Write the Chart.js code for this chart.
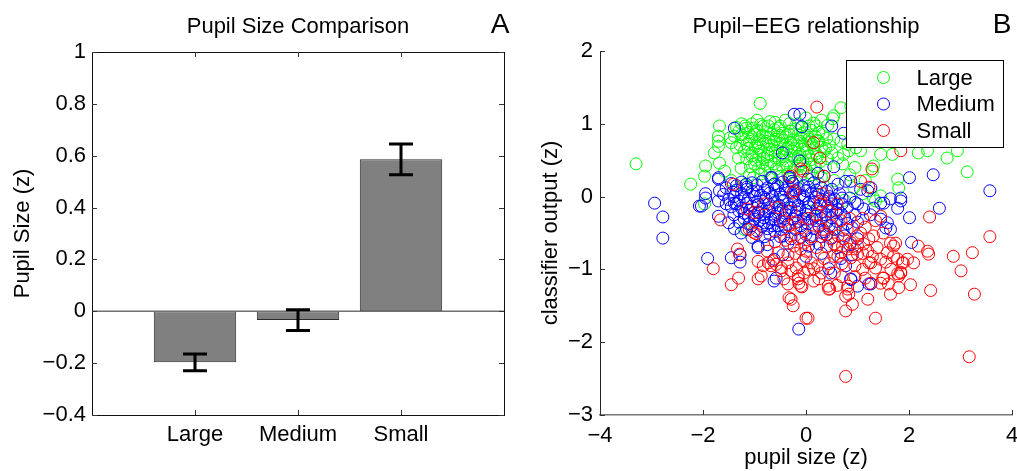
<!DOCTYPE html>
<html>
<head>
<meta charset="utf-8">
<title>Pupil size and classifier output</title>
<script src="https://cdn.jsdelivr.net/npm/chart.js@4.4.1/dist/chart.umd.min.js"></script>
<style>
  html, body { margin: 0; padding: 0; background: #fff; }
  #wrap { position: relative; width: 1017px; height: 471px; }
  .panel { position: absolute; top: 0; height: 471px; }
  #panelA { left: 0; width: 520px; }
  #panelB { left: 520px; width: 497px; }
</style>
</head>
<body>
<div id="wrap">
  <div class="panel" id="panelA"><canvas id="barChart" width="520" height="471"></canvas></div>
  <div class="panel" id="panelB"><canvas id="scatterChart" width="497" height="471"></canvas></div>
</div>
<script>
// ---- panel A: mean pupil size per condition (with s.e.m.)
const categories = ['Large', 'Medium', 'Small'];
const pupilMeans = [-0.197, -0.034, 0.586];
const pupilErrors = [0.032, 0.040, 0.059];

// ---- panel B: single-trial pupil size vs classifier output, [pupil, classifier]
const largePts = [
  [-3.30,0.45],[-2.24,0.17],[-1.97,0.28],[-1.95,0.42],[-1.97,-0.10],[-1.78,0.60],[-1.70,0.69],[-1.70,0.76],
  [-1.70,0.83],[-1.68,0.97],[-1.68,0.46],[-1.58,0.35],[-1.47,0.81],[-1.39,0.83],[-1.35,0.67],[-1.31,0.53],
  [-1.26,0.39],[-1.45,0.74],[-0.89,1.28],[-1.16,0.94],[-1.02,0.94],[-0.83,0.97],[-0.73,0.97],[-0.54,0.94],
  [-0.29,0.90],[-1.02,0.26],[-0.87,0.31],
  [0.68,1.22],[0.87,1.24],[0.54,1.11],[0.52,1.07],[0.15,1.01],[0.06,0.97],[0.33,0.87],[0.25,0.76],
  [0.54,0.79],[0.68,0.76],[0.81,0.72],[0.97,0.67],[1.06,0.63],[0.83,0.63],[0.73,0.58],[0.62,0.53],
  [0.71,0.45],[1.31,0.42],[1.29,0.35],[1.45,0.58],[1.68,0.58],[1.78,0.24],[1.80,0.12],[0.93,0.12],
  [1.10,0.04],[1.31,-0.02],[1.45,0.01],[2.18,0.60],[2.36,0.63],[2.74,0.53],[2.94,0.63],[3.13,0.34],
  [0.85,0.30],[0.95,0.40],[1.15,0.22],
  [-0.60,1.02],[-0.40,1.05],[-0.15,1.00],[0.00,1.08],[0.30,1.05],[0.42,0.98],[-1.25,1.00],[-0.95,1.05],
  [-1.30,0.90],[-1.12,0.88],[-0.95,0.91],[-0.78,0.89],[-0.62,0.92],[-0.45,0.87],[-0.20,0.93],[-0.05,0.88],[0.10,0.91],
  [-1.22,0.80],[-1.05,0.82],[-0.90,0.78],[-0.72,0.81],[-0.58,0.79],[-0.40,0.82],[-0.25,0.78],[-0.10,0.81],
  [0.05,0.79],[0.18,0.83],[0.40,0.80],
  [-1.28,0.71],[-1.15,0.72],[-0.98,0.69],[-0.83,0.72],[-0.66,0.70],[-0.50,0.73],[-0.35,0.68],[-0.18,0.71],
  [-0.02,0.70],[0.12,0.72],[0.30,0.68],[0.45,0.70],
  [-1.20,0.62],[-1.05,0.60],[-0.88,0.63],[-0.74,0.59],[-0.60,0.62],[-0.42,0.60],[-0.28,0.63],[-0.12,0.58],
  [0.02,0.61],[0.20,0.59],[0.35,0.62],[0.50,0.60],
  [-1.15,0.52],[-0.98,0.50],[-0.82,0.53],[-0.68,0.48],[-0.52,0.51],[-0.38,0.49],[-0.22,0.52],[-0.06,0.49],
  [0.10,0.51],[0.28,0.48],[0.42,0.52],
  [-1.08,0.41],[-0.92,0.39],[-0.75,0.42],[-0.58,0.38],[-0.45,0.41],[-0.30,0.40],[-0.15,0.42],[0.00,0.38],
  [0.18,0.41],[0.38,0.40],
  [-1.10,0.30],[-0.70,0.30],[-0.50,0.28],[-0.35,0.31],[-0.10,0.29],[0.12,0.30],[0.30,0.27],
  [-0.60,0.18],[-0.20,0.20],[0.25,0.18],[0.55,0.22],[-1.45,0.22],[-1.20,0.15],
  [-1.20,-0.45],[0.54,-0.45],[1.35,-0.06],[0.75,-0.05],[-0.45,-0.05],[0.10,-0.20],
  [-1.35,0.95],[-1.18,0.97],[-1.05,1.00],[-0.88,0.99],[-0.70,1.03],[-0.50,0.97],[-0.32,1.00],[-0.08,0.95],[0.20,0.97],
  [-1.25,0.85],[-1.00,0.86],[-0.85,0.84],[-0.68,0.86],[-0.52,0.84],[-0.33,0.86],[-0.15,0.85],[0.02,0.84],[0.25,0.88],
  [-1.10,0.76],[-0.95,0.74],[-0.78,0.76],[-0.62,0.75],[-0.45,0.77],[-0.30,0.74],[-0.12,0.76],[0.08,0.75],[0.22,0.77],
  [-1.12,0.66],[-0.92,0.67],[-0.72,0.65],[-0.55,0.67],[-0.38,0.65],[-0.22,0.66],[-0.05,0.65],[0.15,0.66],[0.38,0.66],
  [-1.05,0.56],[-0.90,0.57],[-0.75,0.55],[-0.60,0.56],[-0.45,0.55],[-0.30,0.57],[-0.15,0.55],[0.05,0.56],[0.22,0.55],
  [-0.85,0.46],[-0.62,0.45],[-0.38,0.44],[-0.10,0.45],[0.08,0.44],[-1.00,0.45],
  [-0.80,0.35],[-0.25,0.34],[0.05,0.33]
];

const mediumPts = [
  [-2.94,-0.09],[-2.78,-0.28],[-2.78,-0.57],[-1.91,-0.85],[-1.45,-0.84],[-1.28,-0.80],[-1.28,-0.90],
  [-0.62,-1.16],[-0.58,-1.12],[-0.62,-0.86],[-0.93,-0.70],[-0.14,-1.82],[-1.39,0.94],[-0.12,1.13],
  [-0.08,0.96],[-0.23,1.13],[0.50,0.97],[0.73,0.87],[-0.46,0.60],[-0.12,0.49],[0.54,0.41],[0.23,0.32],
  [0.35,0.28],[0.87,0.21],[0.62,0.17],[0.77,0.21],[0.04,0.24],[-0.04,0.15],[1.06,0.10],[1.26,0.12],
  [1.20,0.08],[1.64,-0.03],[1.84,-0.02],[1.45,-0.09],[2.01,0.26],[2.47,0.30],[3.57,0.08],[2.59,-0.16],
  [2.01,-0.29],[2.05,-0.63],[1.00,-1.23],[0.87,-1.14],[1.26,-1.20],[0.77,-0.95],[0.44,-0.99],[0.48,-1.05],
  [0.87,-1.13],[1.22,-1.20],[-1.70,0.26],
  [-2.03,-0.13],[-1.95,0.04],[-1.95,-0.02],[-2.07,-0.13],[-1.68,0.08],[-1.70,-0.06],[-1.55,-0.10],
  [-1.39,-0.09],[-1.70,-0.27],[-1.50,-0.36],[-1.39,-0.44],[-1.26,-0.50],[-1.12,-0.27],[-0.93,-0.22],
  [-0.81,-0.36],[-0.68,-0.31],[-0.54,-0.40],[-0.43,-0.54],[-0.29,-0.58],[-0.48,-0.45],[-0.93,-0.68],
  [-1.70,0.24],[-1.16,0.17],[-0.68,0.26],[-0.33,0.26],[-0.31,0.26],[-0.27,0.21],[-0.66,0.26],[-0.62,0.17],
  [-1.55,0.12],[-1.35,0.15],[-1.15,0.13],[-0.95,0.16],[-0.75,0.12],[-0.55,0.15],[-0.35,0.14],[-0.15,0.11],
  [0.05,0.13],[0.30,0.12],[0.50,0.10],
  [-1.60,0.03],[-1.42,0.06],[-1.25,0.04],[-1.05,0.07],[-0.88,0.02],[-0.70,0.05],[-0.50,0.03],[-0.30,0.06],
  [-0.12,0.02],[0.10,0.05],[0.25,0.03],[0.45,0.00],[0.65,0.04],[0.85,-0.02],
  [-1.50,-0.04],[-1.30,-0.06],[-1.12,-0.03],[-0.95,-0.07],[-0.78,-0.04],[-0.60,-0.08],[-0.42,-0.05],
  [-0.22,-0.07],[-0.05,-0.04],[0.15,-0.08],[0.35,-0.06],[0.55,-0.03],[0.95,-0.08],
  [-1.45,-0.14],[-1.25,-0.16],[-1.05,-0.13],[-0.85,-0.17],[-0.66,-0.14],[-0.48,-0.18],[-0.30,-0.15],
  [-0.12,-0.17],[0.05,-0.14],[0.22,-0.16],[0.42,-0.13],[0.62,-0.18],[0.80,-0.15],[1.00,-0.10],[1.12,-0.17],
  [1.31,-0.16],[1.51,-0.09],[1.78,-0.16],[1.84,-0.06],
  [-1.40,-0.25],[-1.20,-0.23],[-1.00,-0.26],[-0.80,-0.24],[-0.60,-0.27],[-0.40,-0.23],[-0.20,-0.26],
  [0.00,-0.24],[0.18,-0.27],[0.38,-0.25],[0.58,-0.22],[0.75,-0.28],[0.95,-0.25],[1.45,-0.31],[1.58,-0.36],[1.25,-0.25],
  [-1.30,-0.35],[-1.10,-0.37],[-0.90,-0.33],[-0.72,-0.36],[-0.50,-0.34],[-0.35,-0.38],[-0.15,-0.34],
  [0.03,-0.37],[0.20,-0.33],[0.40,-0.36],[0.60,-0.34],[0.80,-0.37],[1.00,-0.35],
  [-1.15,-0.45],[-0.95,-0.47],[-0.75,-0.44],[-0.60,-0.48],[-0.20,-0.45],[-0.02,-0.47],[0.15,-0.44],
  [0.35,-0.48],[0.55,-0.45],[0.72,-0.46],[0.90,-0.43],[1.64,-0.45],[1.55,-0.43],
  [-1.05,-0.56],[-0.80,-0.55],[-0.10,-0.56],[0.10,-0.58],[0.30,-0.55],[0.50,-0.57],[0.75,-0.54],[1.00,-0.58],
  [-0.75,-0.66],[-0.35,-0.64],[0.05,-0.68],[0.25,-0.65],[0.60,-0.70],[0.85,-0.66],
  [-0.45,-0.80],[0.00,-0.82],[0.30,-0.78],[0.68,-0.85],[0.90,-0.80],
  [-1.45,0.18],[-1.25,0.20],[-1.05,0.19],[-0.85,0.21],[-0.45,0.20],[-0.25,0.18],[0.15,0.19],
  [-1.35,0.09],[-1.15,0.10],[-0.95,0.08],[-0.80,0.09],[-0.60,0.10],[-0.40,0.09],[-0.20,0.08],[0.00,0.08],
  [0.20,0.09],[0.40,0.07],
  [-1.40,0.00],[-1.20,-0.01],[-1.00,0.00],[-0.82,-0.01],[-0.65,0.00],[-0.45,-0.01],[-0.25,0.00],[-0.05,0.01],
  [0.20,-0.01],[0.45,-0.03],[0.70,-0.02],
  [-1.35,-0.10],[-1.15,-0.09],[-0.92,-0.11],[-0.72,-0.10],[-0.52,-0.12],[-0.35,-0.10],[-0.15,-0.12],[0.05,-0.09],
  [0.28,-0.11],[0.50,-0.10],[0.70,-0.10],
  [-1.30,-0.20],[-1.10,-0.19],[-0.92,-0.21],[-0.72,-0.20],[-0.55,-0.22],[-0.38,-0.20],[-0.18,-0.21],[0.00,-0.19],
  [0.30,-0.21],[0.50,-0.20],[0.68,-0.23],
  [-1.20,-0.30],[-1.00,-0.31],[-0.82,-0.29],[-0.62,-0.31],[-0.42,-0.30],[-0.25,-0.31],[-0.05,-0.30],[0.12,-0.31],
  [0.30,-0.30],[0.50,-0.29],
  [-1.05,-0.40],[-0.85,-0.41],[-0.65,-0.40],[-0.40,-0.42],[-0.10,-0.40],[0.25,-0.41],[0.45,-0.40],
  [-0.70,-0.52],[-0.50,-0.55],[0.00,-0.52],[0.40,-0.52]
];

const smallPts = [
  [0.21,1.23],[0.15,0.74],[0.27,0.53],[-0.10,0.38],[-0.06,0.35],[0.35,0.28],[1.28,0.38],[1.06,0.21],
  [1.22,0.13],[0.33,0.04],[0.29,-0.06],[-0.23,0.08],[1.84,0.63],[-1.41,0.17],[-0.31,0.28],[-0.25,0.05],
  [-1.66,-0.32],[-1.14,-0.17],[-1.00,-0.22],[-0.44,-0.34],[-0.21,-0.36],[-1.10,-0.45],[-0.97,-0.51],
  [-1.02,-0.49],[-0.33,-0.40],[-0.29,-0.20],[-1.80,-0.99],[-1.33,-0.72],[-1.29,-0.79],[-1.31,-1.12],
  [-1.45,-1.21],[-0.93,-0.89],[-0.83,-0.95],[-0.93,-1.13],[-0.87,-1.09],[-0.73,-0.91],[-0.68,-0.95],
  [-0.58,-0.93],[-0.48,-0.98],[-0.35,-0.91],[-0.29,-1.02],[-0.43,-1.13],[-0.33,-1.39],[-0.64,-0.88],
  [-0.54,-0.77],[-0.48,-1.02],[-0.14,-1.19],[-0.08,-1.24],[-0.15,-1.13],[0.00,-1.67],
  [0.29,-0.10],[-0.10,-0.43],[0.68,-0.33],[1.06,-0.50],[1.00,-0.54],[1.35,-0.33],[1.45,-0.27],[1.64,-0.64],
  [1.70,-0.68],[-0.29,-0.54],[-0.15,-0.58],[-0.04,-0.64],[-0.10,-0.72],[-0.23,-0.68],[0.54,-0.82],
  [0.68,-0.77],[0.81,-0.72],[0.87,-0.84],[1.00,-0.79],[1.20,-0.75],[1.29,-0.82],[1.45,-0.86],[1.26,-0.91],
  [1.58,-0.77],[1.70,-0.82],[1.78,-0.86],[1.89,-0.91],[1.84,-1.05],[1.80,-1.09],[0.10,-0.91],[0.23,-0.95],
  [0.15,-0.99],[-0.19,-0.98],[-0.15,-1.09],[-0.04,-1.05],[-0.10,-1.23],[0.15,-1.16],[0.25,-1.13],
  [0.43,-1.23],[-0.29,-1.41],[0.44,-1.27],[0.81,-1.23],[0.83,-1.34],[0.77,-1.37],[0.90,-1.48],[0.77,-1.57],
  [1.20,-1.41],[1.64,-1.34],[1.60,-1.20],[1.45,-1.19],[1.49,-1.12],[0.04,-1.67],[1.35,-1.67],[-0.25,-1.50],
  [0.35,-0.51],[0.33,-0.45],[0.48,-0.58],[0.62,-0.54],[1.00,-0.68],[1.12,-0.65],[1.22,-0.58],[1.31,-0.54],
  [0.87,-0.63],[0.73,-0.58],[0.71,-0.68],
  [2.40,-0.28],[3.57,-0.55],[2.86,-0.82],[3.23,-0.77],[3.01,-1.02],[3.27,-1.34],[2.42,-1.29],[3.17,-2.20],
  [0.77,-2.47],[0.81,-1.27],[0.46,-1.27],[1.80,-1.25],[2.03,-1.21],[2.36,-0.75],[2.38,-0.79],[2.18,-0.68],
  [2.09,-0.91],[1.97,-0.86],[1.87,-0.91],[1.78,-1.06],[1.84,-1.04],[1.51,-1.12],[1.26,-1.19],[0.62,-0.82],
  [1.74,-0.64],[1.22,-0.91],
  [0.05,-0.30],[0.20,-0.25],[0.45,-0.20],[0.60,-0.10],[0.85,-0.30],[1.10,-0.30],[-0.55,-0.15],[-0.80,-0.10],
  [-0.40,-0.60],[-0.20,-0.78],[0.00,-0.75],[0.20,-0.70],[0.40,-0.68],[0.55,-0.65],[0.95,-0.72],[1.10,-0.78],
  [1.38,-0.70],[1.55,-0.90],
  [-0.35,-0.80],[-0.05,-0.88],[0.35,-0.85],[0.45,-0.92],[0.70,-0.92],[0.95,-0.95],[1.10,-1.00],[1.35,-0.98],[1.65,-1.00],
  [0.05,-1.00],[0.30,-1.05],[0.55,-1.05],[0.70,-1.10],[0.95,-1.10],[1.15,-1.12],[-0.35,-1.20],[0.60,-1.22],
  [0.10,-0.55],[0.25,-0.40],[0.50,-0.40],[0.80,-0.45],[1.15,-0.42],[1.50,-0.50],[-0.60,-0.62],[-0.75,-0.75]
];

const seriesNames = ['Large', 'Medium', 'Small'];
const seriesColors = ['#00ff00', '#0000ff', '#ff0000'];

const FONT = '"Liberation Sans", Arial, Helvetica, sans-serif';
Chart.defaults.font.family = FONT;
Chart.defaults.font.size = 22;
Chart.defaults.color = '#000';

const fmt = v => String(Number(v.toFixed(1))).replace('-', '\u2212');

// title + panel letter above the plot area
function headingPlugin(text, letter, letterX) {
  return {
    id: 'heading',
    afterDraw(chart) {
      const { ctx, chartArea } = chart;
      ctx.save();
      ctx.fillStyle = '#000';
      ctx.textAlign = 'center';
      ctx.textBaseline = 'alphabetic';
      ctx.font = '22px ' + FONT;
      ctx.fillText(text, (chartArea.left + chartArea.right) / 2, 33);
      ctx.font = '28px ' + FONT;
      ctx.fillText(letter, letterX, 33);
      ctx.restore();
    }
  };
}

// inward tick marks, matlab style
function drawTicks(ctx, chart, sides, len) {
  const { chartArea: a, scales } = chart;
  ctx.save();
  ctx.strokeStyle = '#333';
  ctx.lineWidth = 1;
  ctx.beginPath();
  scales.y.ticks.forEach(t => {
    const y = Math.round(scales.y.getPixelForValue(t.value)) + 0.5;
    ctx.moveTo(a.left, y); ctx.lineTo(a.left + len, y);
    if (sides === 4) { ctx.moveTo(a.right, y); ctx.lineTo(a.right - len, y); }
  });
  scales.x.ticks.forEach(t => {
    const x = Math.round(scales.x.getPixelForValue(t.value)) + 0.5;
    ctx.moveTo(x, a.bottom); ctx.lineTo(x, a.bottom - len);
    if (sides === 4) { ctx.moveTo(x, a.top); ctx.lineTo(x, a.top + len); }
  });
  ctx.stroke();
  ctx.restore();
}

const barDecor = {
  id: 'barDecor',
  afterDatasetsDraw(chart) {
    const { ctx, chartArea: a, scales: { x, y } } = chart;
    ctx.save();
    // baseline at zero
    const y0 = y.getPixelForValue(0);
    ctx.strokeStyle = '#707070';
    ctx.lineWidth = 1.5;
    ctx.beginPath();
    ctx.moveTo(a.left, y0); ctx.lineTo(a.right, y0);
    ctx.stroke();
    // error bars
    ctx.strokeStyle = '#000';
    ctx.lineWidth = 3;
    pupilMeans.forEach((m, i) => {
      const px = x.getPixelForValue(i + 1);
      const top = y.getPixelForValue(m + pupilErrors[i]);
      const bot = y.getPixelForValue(m - pupilErrors[i]);
      ctx.beginPath();
      ctx.moveTo(px, top); ctx.lineTo(px, bot);
      ctx.moveTo(px - 12, top); ctx.lineTo(px + 12, top);
      ctx.moveTo(px - 12, bot); ctx.lineTo(px + 12, bot);
      ctx.stroke();
    });
    ctx.restore();
  },
  afterDraw(chart) {
    const { ctx, chartArea: a } = chart;
    ctx.save();
    ctx.strokeStyle = '#111';
    ctx.lineWidth = 1;
    ctx.strokeRect(Math.round(a.left) + 0.5, Math.round(a.top) + 0.5,
      Math.round(a.right - a.left), Math.round(a.bottom - a.top));
    ctx.restore();
    drawTicks(ctx, chart, 4, 5);
  }
};

new Chart(document.getElementById('barChart'), {
  type: 'bar',
  data: {
    datasets: [{
      data: categories.map((c, i) => ({ x: i + 1, y: pupilMeans[i] })),
      backgroundColor: '#808080',
      borderColor: '#2b2b2b',
      borderWidth: 1,
      borderSkipped: false,
      barPercentage: 0.8,
      categoryPercentage: 1
    }]
  },
  options: {
    responsive: false,
    animation: false,
    layout: { padding: { top: 52, right: 16, bottom: 0, left: 0 }, autoPadding: false },
    plugins: { legend: { display: false }, tooltip: { enabled: false } },
    scales: {
      x: {
        type: 'linear', min: 0, max: 4, offset: false,
        grid: { display: false, drawTicks: false, offset: false },
        border: { display: false },
        afterBuildTicks: s => { s.ticks = categories.map((c, i) => ({ value: i + 1 })); },
        afterFit: s => { s.height = 56; },
        ticks: { padding: 7, autoSkip: false, maxRotation: 0, callback: v => categories[v - 1] }
      },
      y: {
        min: -0.4, max: 1,
        grid: { display: false, drawTicks: false },
        border: { display: false },
        afterFit: s => { s.width = 92; },
        ticks: { stepSize: 0.2, padding: 6, callback: v => fmt(v) },
        title: { display: true, text: 'Pupil Size (z)', padding: { top: 10, bottom: 0 } }
      }
    }
  },
  plugins: [barDecor, headingPlugin('Pupil Size Comparison', 'A', 500)]
});

// legend box drawn inside the plot, top right
const boxLegend = {
  id: 'boxLegend',
  afterDraw(chart) {
    const { ctx, chartArea: a } = chart;
    const w = 157, h = 87;
    const bx = Math.round(a.right - 9 - w) + 0.5, by = Math.round(a.top + 9) + 0.5;
    ctx.save();
    ctx.fillStyle = '#fff';
    ctx.fillRect(bx, by, w, h);
    ctx.strokeStyle = '#000';
    ctx.lineWidth = 1;
    ctx.strokeRect(bx, by, w, h);
    ctx.font = '22px ' + FONT;
    ctx.textBaseline = 'middle';
    ctx.textAlign = 'left';
    chart.data.datasets.forEach((ds, i) => {
      const cy = by + 17 + i * 26.5;
      ctx.strokeStyle = ds.borderColor;
      ctx.beginPath();
      ctx.arc(bx + 37, cy, 6, 0, Math.PI * 2);
      ctx.stroke();
      ctx.fillStyle = '#000';
      ctx.fillText(ds.label, bx + 70, cy + 1);
    });
    ctx.restore();
  }
};

const scatterTicks = {
  id: 'scatterTicks',
  afterDraw(chart) { drawTicks(chart.ctx, chart, 2, 5); }
};

const allPts = [largePts, mediumPts, smallPts];

new Chart(document.getElementById('scatterChart'), {
  type: 'scatter',
  data: {
    datasets: seriesNames.map((name, i) => ({
      label: name,
      data: allPts[i].map(p => ({ x: p[0], y: p[1] })),
      borderColor: seriesColors[i],
      backgroundColor: 'rgba(0,0,0,0)',
      pointRadius: 6,
      pointBorderWidth: 1,
      // later series sit on top
      order: 3 - i
    }))
  },
  options: {
    responsive: false,
    animation: false,
    layout: { padding: { top: 51, right: 5, bottom: 0, left: 0 }, autoPadding: false },
    plugins: { legend: { display: false }, tooltip: { enabled: false } },
    scales: {
      x: {
        type: 'linear', min: -4, max: 4,
        grid: { display: false, drawTicks: false },
        border: { display: true, color: '#777', width: 1.5 },
        // keep the end labels from shrinking the plot
        afterFit: s => { s.height = 56; s.paddingLeft = 0; s.paddingRight = 0; },
        ticks: { stepSize: 2, padding: 8, maxRotation: 0, callback: v => fmt(v) },
        title: { display: true, text: 'pupil size (z)', padding: { top: 0, bottom: 0 } }
      },
      y: {
        min: -3, max: 2,
        grid: { display: false, drawTicks: false },
        border: { display: true, color: '#222', width: 1 },
        afterFit: s => { s.width = 80; s.paddingTop = 0; s.paddingBottom = 0; },
        ticks: { stepSize: 1, padding: 7, callback: v => fmt(v) },
        title: { display: true, text: 'classifier output (z)', padding: { top: 18, bottom: 0 } }
      }
    }
  },
  plugins: [boxLegend, scatterTicks, headingPlugin('Pupil\u2212EEG relationship', 'B', 482)]
});
</script>
</body>
</html>
